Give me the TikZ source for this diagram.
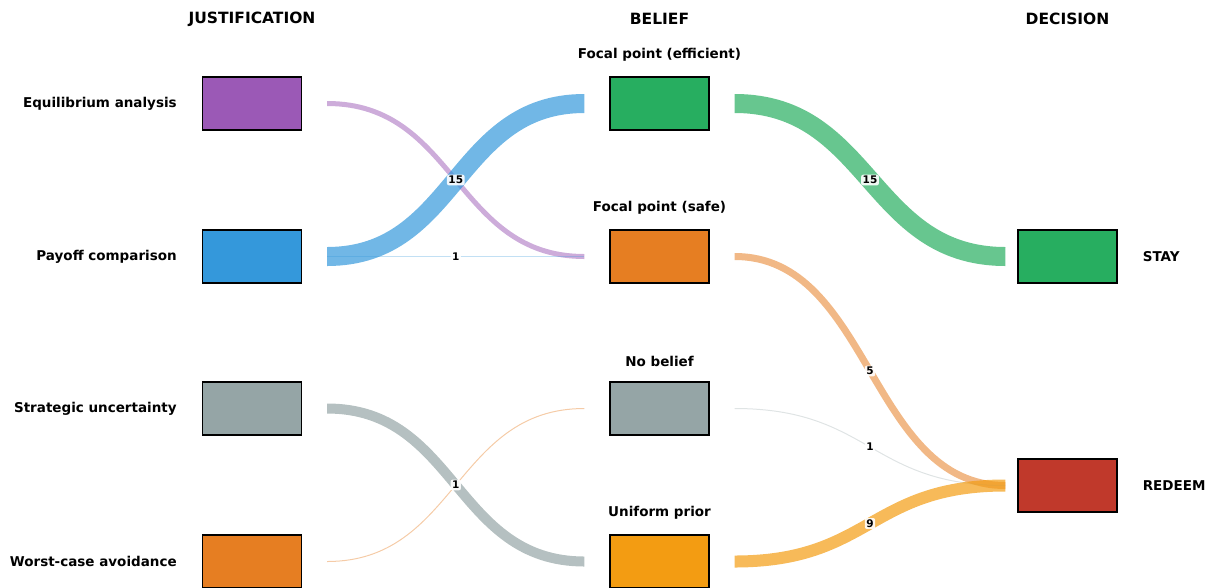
\documentclass[tikz,border=0pt]{standalone}
\usepackage{fontspec}
\setmainfont{DejaVu Sans}
\usetikzlibrary{positioning,calc}

\definecolor{cPurple}{HTML}{9B59B6}
\definecolor{cBlue}{HTML}{3498DB}
\definecolor{cGray}{HTML}{95A5A6}
\definecolor{cOrange}{HTML}{E67E22}
\definecolor{cGreen}{HTML}{27AE60}
\definecolor{cYellow}{HTML}{F39C12}
\definecolor{cRed}{HTML}{C0392B}

% flow: from, to, width, colour, opacity, control distance, end gap
\newcommand{\flowline}[7]{%
  \draw[line width=#3, draw=#4, draw opacity=#5]
    ($(#1.east)+(25,0)$) .. controls +(#6,0) and +(-#6,0) .. ($(#2.west)+(-#7,0)$)}

\begin{document}
\begin{tikzpicture}[x=1pt,y=-1pt,
    box/.style={draw=black, line width=1.2pt, minimum width=99pt, minimum height=53pt, inner sep=0pt},
    lbl/.style={font=\fontsize{13.5}{16}\selectfont\bfseries, inner sep=0pt},
    hdr/.style={font=\fontsize{15.5}{18}\selectfont\bfseries, inner sep=0pt},
    cnt/.style={font=\fontsize{10.5}{12}\selectfont\bfseries, fill=white, fill opacity=0.9, text opacity=1,
                rounded corners=2pt, inner sep=1.5pt}]
    \useasboundingbox (0,0) rectangle (1214,587);

    % 列标题
    \node[hdr] (hJ) at (252,19) {JUSTIFICATION};
    \node[hdr] (hB) at (659.5,19) {BELIEF};
    \node[hdr] (hD) at (1067.5,19) {DECISION};

    % 左列: justification
    \node[box, fill=cPurple] (jEq)    at (252,103.5) {};
    \node[box, fill=cBlue]   (jPay)   at (252,256.5) {};
    \node[box, fill=cGray]   (jStrat) at (252,408.5) {};
    \node[box, fill=cOrange] (jWorst) at (252,561.5) {};
    \node[lbl, left=25pt of jEq]    (lEq)    {Equilibrium analysis};
    \node[lbl, left=25pt of jPay]   (lPay)   {Payoff comparison};
    \node[lbl, left=25pt of jStrat] (lStrat) {Strategic uncertainty};
    \node[lbl, left=25pt of jWorst] (lWorst) {Worst-case avoidance};

    % 中列: belief
    \node[box, fill=cGreen]  (bEff)  at (659.5,103.5) {};
    \node[box, fill=cOrange] (bSafe) at (659.5,256.5) {};
    \node[box, fill=cGray]   (bNone) at (659.5,408.5) {};
    \node[box, fill=cYellow] (bUnif) at (659.5,561.5) {};
    \node[lbl, above=15pt of bEff]  (lEff)  {Focal point (efficient)};
    \node[lbl, above=15pt of bSafe] (lSafe) {Focal point (safe)};
    \node[lbl, above=15pt of bNone] (lNone) {No belief};
    \node[lbl, above=15pt of bUnif] (lUnif) {Uniform prior};

    % 右列: decision
    \node[box, fill=cGreen] (dStay)   at (1067.5,256.5) {};
    \node[box, fill=cRed]   (dRedeem) at (1067.5,485.5) {};
    \node[lbl, right=25pt of dStay]   (lStay)   {STAY};
    \node[lbl, right=25pt of dRedeem] (lRedeem) {REDEEM};

    % justification -> belief
    \flowline{jEq}{bSafe}{5pt}{cPurple}{0.5}{129.5}{25};
    \flowline{jPay}{bEff}{19pt}{cBlue}{0.7}{129.5}{25} node[cnt, pos=0.5] {15};
    \flowline{jPay}{bSafe}{1.2pt}{cBlue}{0.3}{129.5}{25} node[cnt, pos=0.5] {1};
    \flowline{jStrat}{bUnif}{10pt}{cGray}{0.7}{129.5}{25};
    \flowline{jWorst}{bNone}{1pt}{cOrange}{0.4}{129.5}{25} node[cnt, pos=0.5] {1};

    % belief -> decision
    \flowline{bEff}{dStay}{19pt}{cGreen}{0.7}{136}{12} node[cnt, pos=0.5] {15};
    \flowline{bSafe}{dRedeem}{7pt}{cOrange}{0.55}{136}{12} node[cnt, pos=0.5] {5};
    \flowline{bNone}{dRedeem}{1pt}{cGray}{0.3}{136}{12} node[cnt, pos=0.5] {1};
    \flowline{bUnif}{dRedeem}{12pt}{cYellow}{0.7}{136}{12} node[cnt, pos=0.5] {9};
\end{tikzpicture}
\end{document}
